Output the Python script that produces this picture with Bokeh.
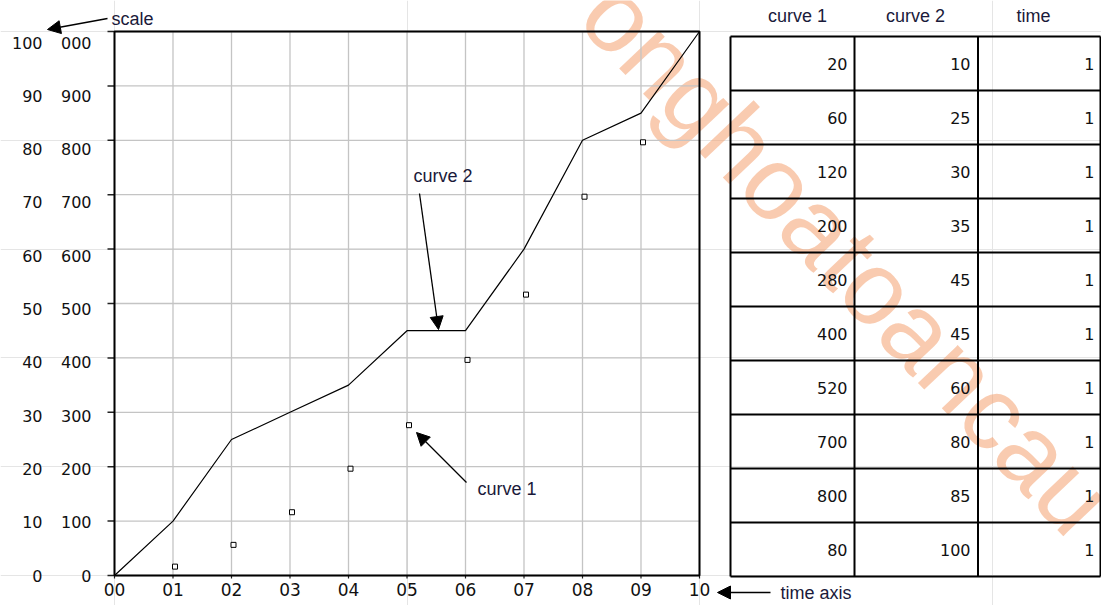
import numpy as np
from bokeh.plotting import figure
from bokeh.models import Range1d, Label, Arrow, NormalHead, ColumnDataSource, CDSView, BooleanFilter
from bokeh.embed import file_html
from bokeh.resources import INLINE
from bokeh.core.properties import value
from bokeh.transform import dodge

# ---------------- data ----------------
time = [1, 1, 1, 1, 1, 1, 1, 1, 1, 1]
curve1 = [20, 60, 120, 200, 280, 400, 520, 700, 800, 80]
curve2 = [10, 25, 30, 35, 45, 45, 60, 80, 85, 100]
time_ticks = [0, 1, 2, 3, 4, 5, 6, 7, 8, 9, 10]
time_labels = ["00", "01", "02", "03", "04", "05", "06", "07", "08", "09", "10"]
scale_ticks = [0, 10, 20, 30, 40, 50, 60, 70, 80, 90, 100]
scale_outer_labels = ["0", "10", "20", "30", "40", "50", "60", "70", "80", "90", "100"]
scale_inner_labels = ["0", "100", "200", "300", "400", "500", "600", "700", "800", "900", "000"]
table_headers = ["curve 1", "curve 2", "time"]
watermark = "onghoatoancau"

DIGIT_FONT = "DejaVu Sans"
TEXT_FONT = "Liberation Sans"
TEXT_COLOR = "#1a1a3a"
DIGIT_COLOR = "#111111"

# ---------------- page layout (pixels) ----------------
W, H = 1101, 605
FL, FR, FT, FB = 114, 699, 31, 575          # plot frame of the chart
x_per = (FR - FL) / (time_ticks[-1] - time_ticks[0])
y_per = (FB - FT) / (scale_ticks[-1] - scale_ticks[0])
lab_per = (FB - 42) / (scale_ticks[-1] - scale_ticks[0])   # tick-label column spacing

p = figure(width=W, height=H,
           x_range=Range1d(time_ticks[0] - FL / x_per, time_ticks[0] + (W - FL) / x_per),
           y_range=Range1d(scale_ticks[0] - (H - FB) / y_per, scale_ticks[0] + FB / y_per),
           min_border=0, x_axis_location=None, y_axis_location=None,
           toolbar_location=None, output_backend="svg")
p.outline_line_color = None
p.background_fill_color = "white"
p.border_fill_color = "white"
p.extra_x_ranges = {"px": Range1d(0, W)}
p.extra_y_ranges = {
    "px": Range1d(H, 0),
    "c1": Range1d(p.y_range.start * 10, p.y_range.end * 10),
    "lab": Range1d(scale_ticks[0] - (H - FB) / lab_per, scale_ticks[0] + FB / lab_per),
}

# ---------------- watermark (underneath) ----------------
p.text(x=[847], y=[256], text=[watermark], angle=-46.5, angle_units="deg",
       x_range_name="px", y_range_name="px",
       text_font=value(TEXT_FONT), text_font_size="104px", text_color="#f4a070",
       text_alpha=0.55, text_align="center", text_baseline="middle")

# ---------------- chart ----------------
grid_color = "#c4c4c4"
x0t, x1t = time_ticks[0], time_ticks[-1]
y0t, y1t = scale_ticks[0], scale_ticks[-1]
p.segment(x0=time_ticks, x1=time_ticks, y0=[y0t] * len(time_ticks), y1=[y1t] * len(time_ticks),
          line_color=grid_color, line_width=1.3)
p.segment(x0=[x0t] * len(scale_ticks), x1=[x1t] * len(scale_ticks), y0=scale_ticks, y1=scale_ticks,
          line_color=grid_color, line_width=1.3)

# axis ticks
p.segment(x0=[FL - 7] * len(scale_ticks), x1=[FL] * len(scale_ticks), y0=scale_ticks, y1=scale_ticks,
          x_range_name="px", line_color="#222222", line_width=1.5)
p.segment(x0=time_ticks, x1=time_ticks, y0=[FB] * len(time_ticks), y1=[FB + 3] * len(time_ticks),
          y_range_name="px", line_color="#222222", line_width=1.2)

# frame border
p.quad(left=[x0t], right=[x1t], bottom=[y0t], top=[y1t], fill_color=None,
       line_color="black", line_width=2)

# tick labels
p.text(x=[91] * len(scale_ticks), y=scale_ticks, text=scale_inner_labels,
       x_range_name="px", y_range_name="lab", text_align="right", text_baseline="middle",
       text_font=value(DIGIT_FONT), text_font_size="16px", text_color=DIGIT_COLOR)
p.text(x=[42] * len(scale_ticks), y=scale_ticks, text=scale_outer_labels,
       x_range_name="px", y_range_name="lab", text_align="right", text_baseline="middle",
       text_font=value(DIGIT_FONT), text_font_size="16px", text_color=DIGIT_COLOR)
p.text(x=time_ticks, y=[589] * len(time_ticks), text=time_labels,
       y_range_name="px", text_align="center", text_baseline="middle",
       text_font=value(DIGIT_FONT), text_font_size="17px", text_color=DIGIT_COLOR)

# curve 2 (line) and curve 1 (points; the point on the right edge falls outside the window)
t_cum = np.concatenate([[0], np.cumsum(time)])
p.line(x=t_cum, y=np.concatenate([[0], curve2]), line_color="black", line_width=1.2)

pts_t = np.cumsum(time)
pts = ColumnDataSource(dict(t=pts_t, v=curve1))
inside = CDSView(filter=BooleanFilter([bool(tt < x1t) for tt in pts_t]))
p.scatter(x=dodge("t", 2 / x_per), y=dodge("v", -2 / (y_per / 10)), source=pts, view=inside,
          y_range_name="c1", marker="square", size=5,
          fill_color="white", line_color="black", line_width=1)

# ---------------- table ----------------
col_edges = [730, 854, 977.5, 1100]
top, row_h = 36, 54
n = len(curve1)
ys = top + row_h * np.arange(n + 1)
p.segment(x0=[col_edges[0]] * (n + 1), x1=[col_edges[-1]] * (n + 1), y0=ys, y1=ys,
          x_range_name="px", y_range_name="px", line_color="black", line_width=2)
p.segment(x0=col_edges, x1=col_edges, y0=[top] * 4, y1=[ys[-1]] * 4,
          x_range_name="px", y_range_name="px", line_color="black", line_width=2)

row_c = top + row_h * (np.arange(n) + 0.5)
for xr, vals in zip([847, 970, 1094], [curve1, curve2, time]):
    p.text(x=[xr] * n, y=row_c, text=[str(v) for v in vals], text_align="right",
           text_baseline="middle", x_range_name="px", y_range_name="px",
           text_font=value(DIGIT_FONT), text_font_size="16px", text_color=DIGIT_COLOR)

p.text(x=[797, 915, 1033], y=[15] * 3, text=table_headers, text_align="center",
       text_baseline="middle", x_range_name="px", y_range_name="px",
       text_font=value(TEXT_FONT), text_font_size="18px", text_color=TEXT_COLOR)

# ---------------- annotations ----------------
def add_arrow(x0, y0, x1, y1):
    p.add_layout(Arrow(x_start=x0, y_start=y0, x_end=x1, y_end=y1,
                       x_range_name="px", y_range_name="px",
                       line_color="black", line_width=1.3,
                       end=NormalHead(size=13, fill_color="black", line_color="black",
                                      line_width=1)))

def add_label(x, y, text):
    p.add_layout(Label(x=x, y=y, text=text, x_range_name="px", y_range_name="px",
                       text_font=TEXT_FONT, text_font_size="18px", text_color=TEXT_COLOR,
                       text_align="left", text_baseline="middle"))

add_arrow(107, 18, 47, 29)
add_label(111, 18, "scale")
add_arrow(419, 193, 438, 329)
add_label(413, 175, "curve 2")
add_arrow(466, 482, 416, 432)
add_label(477, 488, "curve 1")
add_arrow(770, 592, 717, 592)
add_label(780, 592, "time axis")

open("out.html", "w").write(file_html(p, INLINE))
